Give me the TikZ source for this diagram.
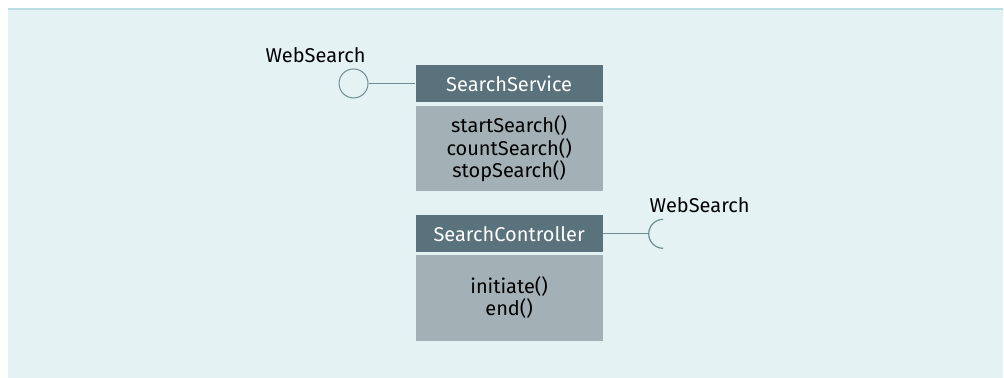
\documentclass[tikz,border=0pt]{standalone}
\usepackage{fontspec}
\setmainfont{Fira Sans}
\usetikzlibrary{positioning}
\definecolor{bgcol}{HTML}{E4F2F3}
\definecolor{bgline}{HTML}{B9DEE1}
\definecolor{headcol}{HTML}{5A727B}
\definecolor{bodycol}{HTML}{A3B1B6}
\definecolor{linkcol}{HTML}{6F8B93}
\tikzstyle{head} = [rectangle, minimum width=187pt, minimum height=37pt,
inner sep=0pt, fill=headcol, text=white, font=\fontsize{20}{23}\selectfont]
\tikzstyle{body} = [rectangle, minimum width=187pt, minimum height=85pt,
inner sep=0pt, fill=bodycol, text=black, align=center, font=\fontsize{20}{22.5}\selectfont]
\tikzstyle{ball} = [circle, draw=linkcol, line width=1pt, minimum size=29pt, inner sep=0pt]
\tikzstyle{link} = [line width=1.2pt, draw=linkcol]
\tikzstyle{ifname} = [font=\fontsize{20}{23}\selectfont, inner sep=0pt]

\begin{document}
\begin{tikzpicture}[x=1pt, y=1pt, node distance=4pt]

      \fill[bgcol] (8,0) rectangle (1004,369);
      \draw[bgline, line width=1.5pt] (8,369) -- (1004,369);
      \useasboundingbox (0,0) rectangle (1004,378);

      \node (SSH) [head] at (509.5,294.5) {SearchService};
      \node (SSB) [body, below=of SSH] {startSearch()\\ countSearch()\\ stopSearch()};

      \node (SCH) [head] at (509.5,144) {SearchController};
      \node (SCB) [body, below=2pt of SCH, minimum height=86pt] {initiate()\\ end()};

      % provided interface
      \node (P) [ball, left=47pt of SSH] {};
      \draw [link] (P) -- (SSH);
      \node (WS1) [ifname] at ([xshift=-38pt, yshift=28pt]P.center) {WebSearch};

      % required interface
      \coordinate (S) at ([xshift=46pt]SCH.east);
      \draw [link] (SCH.east) -- (S);
      \draw [link] ([xshift=14.5pt, yshift=14.5pt]S) arc[start angle=90, end angle=270, radius=14.5pt];
      \node (WS2) [ifname] at ([xshift=51pt, yshift=29pt]S) {WebSearch};

  \end{tikzpicture}
\end{document}
